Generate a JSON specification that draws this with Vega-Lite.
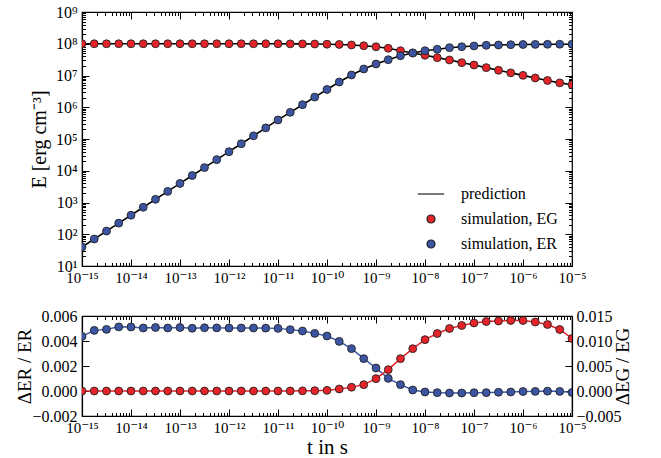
{
  "$schema": "https://vega.github.io/schema/vega-lite/v6.json",
  "autosize": {"type": "pad"},
  "padding": {"left": 15, "top": 3, "right": 5, "bottom": 5},
  "background": "white",
  "data": {"values": [
    {"t": 1e-15, "ER": 39.8, "EG": 100000000, "dR": 0.00437, "dG": 0},
    {"t": 1.778e-15, "ER": 70.8, "EG": 100000000, "dR": 0.00485, "dG": 0},
    {"t": 3.162e-15, "ER": 125.9, "EG": 100000000, "dR": 0.00493, "dG": 0},
    {"t": 5.623e-15, "ER": 223.9, "EG": 100000000, "dR": 0.00513, "dG": 0},
    {"t": 1e-14, "ER": 398, "EG": 100000000, "dR": 0.00512, "dG": 0},
    {"t": 1.778e-14, "ER": 708, "EG": 100000000, "dR": 0.00504, "dG": 0},
    {"t": 3.162e-14, "ER": 1259, "EG": 100000000, "dR": 0.00508, "dG": 0},
    {"t": 5.623e-14, "ER": 2239, "EG": 100000000, "dR": 0.00504, "dG": 0},
    {"t": 1e-13, "ER": 3981, "EG": 100000000, "dR": 0.00508, "dG": 0},
    {"t": 1.778e-13, "ER": 7079, "EG": 100000000, "dR": 0.00502, "dG": 0},
    {"t": 3.162e-13, "ER": 12589, "EG": 100000000, "dR": 0.00506, "dG": 0},
    {"t": 5.623e-13, "ER": 22387, "EG": 100000000, "dR": 0.00505, "dG": 0},
    {"t": 1e-12, "ER": 39811, "EG": 100000000, "dR": 0.00504, "dG": 0},
    {"t": 1.778e-12, "ER": 70795, "EG": 99990000, "dR": 0.00504, "dG": 0},
    {"t": 3.162e-12, "ER": 125893, "EG": 99980000, "dR": 0.00504, "dG": 0},
    {"t": 5.623e-12, "ER": 223872, "EG": 99970000, "dR": 0.00503, "dG": 0},
    {"t": 1e-11, "ER": 398107, "EG": 99600000, "dR": 0.00501, "dG": 0},
    {"t": 1.778e-11, "ER": 691831, "EG": 99300000, "dR": 0.00491, "dG": 0.00001},
    {"t": 3.162e-11, "ER": 1202264, "EG": 98800000, "dR": 0.0048, "dG": 0.00003},
    {"t": 5.623e-11, "ER": 2089296, "EG": 98000000, "dR": 0.00461, "dG": 0.00006},
    {"t": 1e-10, "ER": 3630781, "EG": 96600000, "dR": 0.0044, "dG": 0.00013},
    {"t": 1.778e-10, "ER": 6237348, "EG": 95100000, "dR": 0.00397, "dG": 0.0004},
    {"t": 3.162e-10, "ER": 10375284, "EG": 91600000, "dR": 0.00339, "dG": 0.00075},
    {"t": 5.623e-10, "ER": 16032454, "EG": 86500000, "dR": 0.00259, "dG": 0.00127},
    {"t": 1e-9, "ER": 23014418, "EG": 80400000, "dR": 0.00184, "dG": 0.00247},
    {"t": 1.778e-9, "ER": 31477483, "EG": 71900000, "dR": 0.00101, "dG": 0.00427},
    {"t": 3.162e-9, "ER": 42072662, "EG": 60300000, "dR": 0.00051, "dG": 0.00647},
    {"t": 5.623e-9, "ER": 51168984, "EG": 51200000, "dR": 0.00008, "dG": 0.00847},
    {"t": 1e-8, "ER": 60255959, "EG": 43300000, "dR": -0.00008, "dG": 0.01027},
    {"t": 1.778e-8, "ER": 66834392, "EG": 36500000, "dR": -0.00013, "dG": 0.0115},
    {"t": 3.162e-8, "ER": 75162289, "EG": 30800000, "dR": -0.00016, "dG": 0.0125},
    {"t": 5.623e-8, "ER": 80723030, "EG": 25400000, "dR": -0.00016, "dG": 0.0131},
    {"t": 1e-7, "ER": 84918236, "EG": 21400000, "dR": -0.00014, "dG": 0.0136},
    {"t": 1.778e-7, "ER": 89330967, "EG": 17700000, "dR": -0.00013, "dG": 0.0139},
    {"t": 3.162e-7, "ER": 91411324, "EG": 14600000, "dR": -0.0001, "dG": 0.014},
    {"t": 5.623e-7, "ER": 93325430, "EG": 12100000, "dR": -0.00008, "dG": 0.0141},
    {"t": 1e-6, "ER": 94623716, "EG": 10100000, "dR": -0.00004, "dG": 0.0141},
    {"t": 1.778e-6, "ER": 95499259, "EG": 8360000, "dR": -0.00003, "dG": 0.0138},
    {"t": 3.162e-6, "ER": 96161883, "EG": 6950000, "dR": -0.00001, "dG": 0.0133},
    {"t": 5.623e-6, "ER": 96605088, "EG": 5860000, "dR": -0.00003, "dG": 0.0123},
    {"t": 1e-5, "ER": 96827785, "EG": 5130000, "dR": -0.00012, "dG": 0.0105}
  ]},
  "vconcat": [
    {
      "width": 490,
      "height": 254,
      "layer": [
        {
          "mark": {"type": "line", "color": "black", "strokeWidth": 1.6, "clip": true},
          "encoding": {
            "x": {"field": "t", "type": "quantitative",
              "scale": {"type": "log", "domain": [1e-15, 1e-5], "nice": false},
              "axis": {"orient": "bottom", "title": null,
                "values": [1e-15,1e-14,1e-13,1e-12,1e-11,1e-10,1e-9,1e-8,1e-7,1e-6,1e-5],
                "tickSize": -7,
                "labelPadding": 11, "labelFontSize": 15,
                "labelExpr": "'10' + replace(replace(replace(replace(replace(replace(replace(replace(replace(replace(replace('' + round(log(datum.value)/LN10), regexp('-','g'),'⁻'), regexp('0','g'),'⁰'), regexp('1','g'),'¹'), regexp('2','g'),'²'), regexp('3','g'),'³'), regexp('4','g'),'⁴'), regexp('5','g'),'⁵'), regexp('6','g'),'⁶'), regexp('7','g'),'⁷'), regexp('8','g'),'⁸'), regexp('9','g'),'⁹')"
              }
            },
            "y": {"field": "ER", "type": "quantitative",
              "scale": {"type": "log", "domain": [10, 1000000000], "nice": false},
              "axis": {"orient": "left", "title": "E [erg cm⁻³]", "titleFontSize": 20, "titlePadding": 6,
                "values": [10,100,1000,10000,100000,1000000,10000000,100000000,1000000000],
                "tickSize": -7,
                "labelPadding": 12,
                "labelExpr": "'10' + replace(replace(replace(replace(replace(replace(replace(replace(replace(replace(replace('' + round(log(datum.value)/LN10), regexp('-','g'),'⁻'), regexp('0','g'),'⁰'), regexp('1','g'),'¹'), regexp('2','g'),'²'), regexp('3','g'),'³'), regexp('4','g'),'⁴'), regexp('5','g'),'⁵'), regexp('6','g'),'⁶'), regexp('7','g'),'⁷'), regexp('8','g'),'⁸'), regexp('9','g'),'⁹')"
              }
            }
          }
        },
        {
          "mark": {"type": "line", "color": "black", "strokeWidth": 1.6, "clip": true},
          "encoding": {
            "x": {"field": "t", "type": "quantitative",
              "axis": {"orient": "top", "title": null, "labels": false, "domain": false,
                "values": [1e-15,1e-14,1e-13,1e-12,1e-11,1e-10,1e-9,1e-8,1e-7,1e-6,1e-5],
                "tickSize": -7
              }
            },
            "y": {"field": "EG", "type": "quantitative",
              "axis": {"orient": "right", "title": null, "labels": false, "domain": false,
                "values": [10,100,1000,10000,100000,1000000,10000000,100000000,1000000000],
                "tickSize": -7
              }
            }
          }
        },
        {
          "mark": {"type": "point", "filled": true, "size": 62, "stroke": "#222222", "strokeWidth": 0.9, "opacity": 1, "clip": true},
          "encoding": {
            "x": {"field": "t", "type": "quantitative",
              "axis": {"orient": "bottom", "title": null, "labels": false, "domain": false,
                "values": [2e-15,3e-15,4e-15,5e-15,6e-15,7e-15,8e-15,9e-15,2e-14,3e-14,4e-14,5e-14,6e-14,7e-14,8e-14,9e-14,2e-13,3e-13,4e-13,5e-13,6e-13,7e-13,8e-13,9e-13,2e-12,3e-12,4e-12,5e-12,6e-12,7e-12,8e-12,9e-12,2e-11,3e-11,4e-11,5e-11,6e-11,7e-11,8e-11,9e-11,2e-10,3e-10,4e-10,5e-10,6e-10,7e-10,8e-10,9e-10,2e-9,3e-9,4e-9,5e-9,6e-9,7e-9,8e-9,9e-9,2e-8,3e-8,4e-8,5e-8,6e-8,7e-8,8e-8,9e-8,2e-7,3e-7,4e-7,5e-7,6e-7,7e-7,8e-7,9e-7,2e-6,3e-6,4e-6,5e-6,6e-6,7e-6,8e-6,9e-6],
                "tickSize": -3.5
              }
            },
            "y": {"field": "EG", "type": "quantitative",
              "axis": {"orient": "left", "title": null, "labels": false, "domain": false,
                "values": [20,30,40,50,60,70,80,90,200,300,400,500,600,700,800,900,2000,3000,4000,5000,6000,7000,8000,9000,20000,30000,40000,50000,60000,70000,80000,90000,200000,300000,400000,500000,600000,700000,800000,900000,2000000,3000000,4000000,5000000,6000000,7000000,8000000,9000000,20000000,30000000,40000000,50000000,60000000,70000000,80000000,90000000,200000000,300000000,400000000,500000000,600000000,700000000,800000000,900000000],
                "tickSize": -3.5
              }
            },
            "color": {"datum": "simulation, EG", "type": "nominal",
              "scale": {"domain": ["prediction", "simulation, EG", "simulation, ER"], "range": ["#000000", "#e5242a", "#3b55a3"]},
              "legend": {"title": null, "orient": "bottom-right", "offset": 14, "padding": 0,
                "labelFont": "Liberation Serif", "labelFontSize": 16, "labelColor": "black",
                "symbolSize": 64, "labelOffset": 22, "rowPadding": 9, "symbolStrokeWidth": 1.2}
            },
            "shape": {"datum": "simulation, EG", "type": "nominal",
              "scale": {"domain": ["prediction", "simulation, EG", "simulation, ER"], "range": ["M-3.3,0H3.3", "circle", "circle"]},
              "legend": {"title": null, "orient": "bottom-right", "offset": 14, "padding": 0,
                "labelFont": "Liberation Serif", "labelFontSize": 16, "labelColor": "black",
                "symbolSize": 64, "labelOffset": 22, "rowPadding": 9, "symbolStrokeWidth": 1.2}
            }
          }
        },
        {
          "mark": {"type": "point", "filled": true, "size": 62, "stroke": "#222222", "strokeWidth": 0.9, "opacity": 1, "clip": true},
          "encoding": {
            "x": {"field": "t", "type": "quantitative",
              "axis": {"orient": "top", "title": null, "labels": false, "domain": false,
                "values": [2e-15,3e-15,4e-15,5e-15,6e-15,7e-15,8e-15,9e-15,2e-14,3e-14,4e-14,5e-14,6e-14,7e-14,8e-14,9e-14,2e-13,3e-13,4e-13,5e-13,6e-13,7e-13,8e-13,9e-13,2e-12,3e-12,4e-12,5e-12,6e-12,7e-12,8e-12,9e-12,2e-11,3e-11,4e-11,5e-11,6e-11,7e-11,8e-11,9e-11,2e-10,3e-10,4e-10,5e-10,6e-10,7e-10,8e-10,9e-10,2e-9,3e-9,4e-9,5e-9,6e-9,7e-9,8e-9,9e-9,2e-8,3e-8,4e-8,5e-8,6e-8,7e-8,8e-8,9e-8,2e-7,3e-7,4e-7,5e-7,6e-7,7e-7,8e-7,9e-7,2e-6,3e-6,4e-6,5e-6,6e-6,7e-6,8e-6,9e-6],
                "tickSize": -3.5
              }
            },
            "y": {"field": "ER", "type": "quantitative",
              "axis": {"orient": "right", "title": null, "labels": false, "domain": false,
                "values": [20,30,40,50,60,70,80,90,200,300,400,500,600,700,800,900,2000,3000,4000,5000,6000,7000,8000,9000,20000,30000,40000,50000,60000,70000,80000,90000,200000,300000,400000,500000,600000,700000,800000,900000,2000000,3000000,4000000,5000000,6000000,7000000,8000000,9000000,20000000,30000000,40000000,50000000,60000000,70000000,80000000,90000000,200000000,300000000,400000000,500000000,600000000,700000000,800000000,900000000],
                "tickSize": -3.5
              }
            },
            "color": {"datum": "simulation, ER", "type": "nominal", "legend": null},
            "shape": {"datum": "simulation, ER", "type": "nominal", "legend": null}
          }
        }
      ],
      "resolve": {"axis": {"x": "independent", "y": "independent"}}
    },
    {
      "width": 490,
      "height": 100,
      "layer": [
        {
          "mark": {"type": "line", "color": "#3b58a8", "strokeWidth": 1.5, "clip": true},
          "encoding": {
            "x": {"field": "t", "type": "quantitative",
              "scale": {"type": "log", "domain": [1e-15, 1e-5], "nice": false},
              "axis": {"orient": "bottom", "title": "t in s", "titleFontSize": 21, "titlePadding": 1,
                "values": [1e-15,1e-14,1e-13,1e-12,1e-11,1e-10,1e-9,1e-8,1e-7,1e-6,1e-5],
                "tickSize": -7,
                "labelPadding": 11, "labelFontSize": 15,
                "labelExpr": "'10' + replace(replace(replace(replace(replace(replace(replace(replace(replace(replace(replace('' + round(log(datum.value)/LN10), regexp('-','g'),'⁻'), regexp('0','g'),'⁰'), regexp('1','g'),'¹'), regexp('2','g'),'²'), regexp('3','g'),'³'), regexp('4','g'),'⁴'), regexp('5','g'),'⁵'), regexp('6','g'),'⁶'), regexp('7','g'),'⁷'), regexp('8','g'),'⁸'), regexp('9','g'),'⁹')"
              }
            },
            "y": {"field": "dR", "type": "quantitative",
              "scale": {"domain": [-0.002, 0.006], "nice": false, "zero": false},
              "axis": {"orient": "left", "title": "ΔER / ER", "titleFontSize": 19, "titlePadding": -3,
                "values": [-0.002, 0, 0.002, 0.004, 0.006], "format": ".3f",
                "tickSize": -7, "labelPadding": 12}
            }
          }
        },
        {
          "mark": {"type": "point", "filled": true, "size": 62, "color": "#3b55a3", "stroke": "#222222", "strokeWidth": 0.9, "opacity": 1, "clip": true},
          "encoding": {
            "x": {"field": "t", "type": "quantitative",
              "axis": {"orient": "bottom", "title": null, "labels": false, "domain": false,
                "values": [2e-15,3e-15,4e-15,5e-15,6e-15,7e-15,8e-15,9e-15,2e-14,3e-14,4e-14,5e-14,6e-14,7e-14,8e-14,9e-14,2e-13,3e-13,4e-13,5e-13,6e-13,7e-13,8e-13,9e-13,2e-12,3e-12,4e-12,5e-12,6e-12,7e-12,8e-12,9e-12,2e-11,3e-11,4e-11,5e-11,6e-11,7e-11,8e-11,9e-11,2e-10,3e-10,4e-10,5e-10,6e-10,7e-10,8e-10,9e-10,2e-9,3e-9,4e-9,5e-9,6e-9,7e-9,8e-9,9e-9,2e-8,3e-8,4e-8,5e-8,6e-8,7e-8,8e-8,9e-8,2e-7,3e-7,4e-7,5e-7,6e-7,7e-7,8e-7,9e-7,2e-6,3e-6,4e-6,5e-6,6e-6,7e-6,8e-6,9e-6],
                "tickSize": -3.5
              }
            },
            "y": {"field": "dR", "type": "quantitative",
              "scale": {"domain": [-0.002, 0.006], "nice": false, "zero": false},
              "axis": null}
          }
        },
        {
          "mark": {"type": "line", "color": "#e8262b", "strokeWidth": 1.5, "clip": true},
          "encoding": {
            "x": {"field": "t", "type": "quantitative",
              "axis": {"orient": "top", "title": null, "labels": false, "domain": false,
                "values": [1e-15,1e-14,1e-13,1e-12,1e-11,1e-10,1e-9,1e-8,1e-7,1e-6,1e-5],
                "tickSize": -7
              }
            },
            "y": {"field": "dG", "type": "quantitative",
              "scale": {"domain": [-0.005, 0.015], "nice": false, "zero": false},
              "axis": {"orient": "right", "title": "ΔEG / EG", "titleFontSize": 19, "titlePadding": -8, "titleAngle": 270, "titleBaseline": "top",
                "values": [-0.005, 0, 0.005, 0.01, 0.015], "format": ".3f",
                "tickSize": -7, "labelPadding": 11}
            }
          }
        },
        {
          "mark": {"type": "point", "filled": true, "size": 62, "color": "#e5242a", "stroke": "#222222", "strokeWidth": 0.9, "opacity": 1, "clip": true},
          "encoding": {
            "x": {"field": "t", "type": "quantitative",
              "axis": {"orient": "top", "title": null, "labels": false, "domain": false,
                "values": [2e-15,3e-15,4e-15,5e-15,6e-15,7e-15,8e-15,9e-15,2e-14,3e-14,4e-14,5e-14,6e-14,7e-14,8e-14,9e-14,2e-13,3e-13,4e-13,5e-13,6e-13,7e-13,8e-13,9e-13,2e-12,3e-12,4e-12,5e-12,6e-12,7e-12,8e-12,9e-12,2e-11,3e-11,4e-11,5e-11,6e-11,7e-11,8e-11,9e-11,2e-10,3e-10,4e-10,5e-10,6e-10,7e-10,8e-10,9e-10,2e-9,3e-9,4e-9,5e-9,6e-9,7e-9,8e-9,9e-9,2e-8,3e-8,4e-8,5e-8,6e-8,7e-8,8e-8,9e-8,2e-7,3e-7,4e-7,5e-7,6e-7,7e-7,8e-7,9e-7,2e-6,3e-6,4e-6,5e-6,6e-6,7e-6,8e-6,9e-6],
                "tickSize": -3.5
              }
            },
            "y": {"field": "dG", "type": "quantitative",
              "scale": {"domain": [-0.005, 0.015], "nice": false, "zero": false},
              "axis": null}
          }
        }
      ],
      "resolve": {"scale": {"y": "independent"}, "axis": {"x": "independent", "y": "independent"}}
    }
  ],
  "resolve": {"scale": {"color": "independent", "shape": "independent"}, "legend": {"color": "independent", "shape": "independent"}},
  "spacing": 50,
  "bounds": "flush",
  "config": {
    "font": "Liberation Serif",
    "view": {"stroke": "black", "strokeWidth": 1.2},
    "axis": {
      "grid": false,
      "domainColor": "black",
      "domainWidth": 1.2,
      "tickColor": "black",
      "tickWidth": 1,
      "labelFont": "Liberation Serif, DejaVu Serif",
      "labelFontSize": 16,
      "labelColor": "black",
      "labelFlush": false,
      "labelOverlap": false,
      "labelBound": false,
      "titleFont": "Liberation Serif",
      "titleFontWeight": "normal",
      "titleColor": "black"
    }
  }
}
